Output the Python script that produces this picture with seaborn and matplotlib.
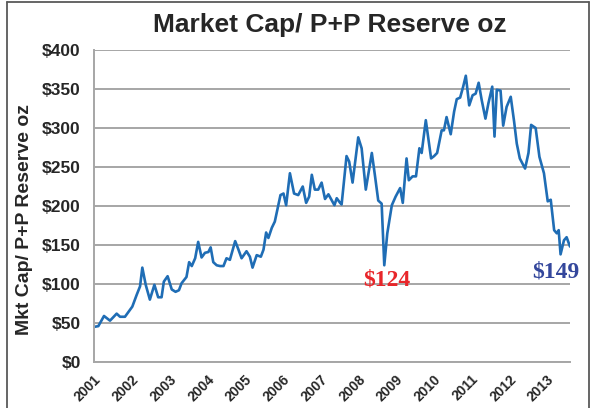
import matplotlib
matplotlib.use('Agg')
import matplotlib.pyplot as plt
import seaborn as sns
import pandas as pd
from matplotlib.lines import Line2D

# valores (ano decimal, US$ por oz de reserva P+P)
anos = [2001.00, 2001.115, 2001.265, 2001.424, 2001.60, 2001.69, 2001.82,
        2002.015, 2002.13, 2002.22, 2002.28, 2002.37, 2002.48, 2002.60, 2002.70,
        2002.79, 2002.85, 2002.95, 2003.06, 2003.16, 2003.25, 2003.32, 2003.45,
        2003.52, 2003.59, 2003.68, 2003.76, 2003.85, 2003.94, 2004.03, 2004.09,
        2004.16, 2004.25, 2004.34, 2004.43, 2004.51, 2004.60, 2004.74, 2004.82,
        2004.91, 2005.04, 2005.13, 2005.20, 2005.31, 2005.42, 2005.49, 2005.56,
        2005.62, 2005.71, 2005.79, 2005.86, 2005.94, 2006.02, 2006.09, 2006.19,
        2006.30, 2006.41, 2006.53, 2006.62, 2006.70, 2006.77, 2006.85, 2006.94,
        2007.03, 2007.12, 2007.21, 2007.37, 2007.43, 2007.52, 2007.56, 2007.69,
        2007.76, 2007.85, 2008.00, 2008.09, 2008.20, 2008.36, 2008.44, 2008.53,
        2008.62, 2008.69, 2008.77, 2008.89, 2008.99, 2009.11, 2009.18, 2009.28,
        2009.34, 2009.44, 2009.53, 2009.62, 2009.68, 2009.79, 2009.93, 2010.01,
        2010.09, 2010.21, 2010.27, 2010.34, 2010.45, 2010.54, 2010.61, 2010.70,
        2010.78, 2010.85, 2010.94, 2011.03, 2011.11, 2011.19, 2011.27, 2011.37,
        2011.45, 2011.55, 2011.61, 2011.67, 2011.77, 2011.84, 2011.93, 2012.04,
        2012.13, 2012.20, 2012.28, 2012.42, 2012.51, 2012.58, 2012.70, 2012.80,
        2012.92, 2013.02, 2013.10, 2013.19, 2013.26, 2013.31, 2013.36, 2013.45,
        2013.52, 2013.61]
valores = [45, 46, 59, 53, 62, 58, 58,
           71, 86, 97, 121, 99, 80, 99, 83,
           83, 103, 110, 93, 90, 92, 101, 109,
           128, 123, 133, 154, 134, 140, 141, 147,
           128, 124, 123, 123, 133, 131, 155, 145,
           133, 142, 135, 121, 137, 135, 144, 166,
           159, 172, 180, 196, 214, 216, 201, 242,
           216, 214, 225, 204, 212, 240, 221, 221,
           230, 209, 215, 201, 210, 204, 202, 264,
           257, 230, 288, 274, 221, 268, 240, 207,
           203, 124, 165, 201, 212, 223, 204, 261,
           233, 238, 238, 274, 268, 310, 261, 264,
           268, 297, 297, 314, 292, 321, 337, 339,
           353, 367, 329, 342, 344, 358, 336, 312,
           332, 353, 289, 349, 348, 303, 327, 340,
           308, 280, 261, 248, 268, 304, 300, 263,
           242, 206, 208, 169, 165, 169, 138, 156,
           160, 148]

rotulos_anos = list(range(2001, 2014))
rotulos_y = [0, 50, 100, 150, 200, 250, 300, 350, 400]

df = pd.DataFrame({'ano': anos, 'valor': valores})

sns.set_style('white')
plt.rcParams['font.family'] = ['Liberation Sans', 'DejaVu Sans']

fig = plt.figure(figsize=(5.92, 4.08), dpi=100)
ax = fig.add_axes([94 / 592, 1 - 362 / 408, (570 - 94) / 592, (362 - 50) / 408])

sns.lineplot(data=df, x='ano', y='valor', ax=ax, color='#1f6db5', linewidth=1.9,
             sort=False, estimator=None)

ax.set_xlim(2001, 2013.61)
ax.set_ylim(0, 400)
ax.set_yticks(rotulos_y)
ax.set_yticklabels([f'${v}' for v in rotulos_y], fontweight='bold', fontsize=12.5)
ax.set_xticks(rotulos_anos)
ax.set_xticklabels([str(a) for a in rotulos_anos], rotation=45, ha='right',
                   rotation_mode='anchor', fontweight='bold', fontsize=10)

ax.grid(axis='y', color='#a6a6a6', linewidth=1.4)
ax.grid(axis='x', visible=False)
for lado in ['top', 'right']:
    ax.spines[lado].set_visible(False)
for lado in ['left', 'bottom']:
    ax.spines[lado].set_color('#a6a6a6')
    ax.spines[lado].set_linewidth(1.4)
ax.tick_params(axis='y', length=7, width=1.2, color='#a6a6a6', direction='inout', pad=6)
ax.tick_params(axis='x', length=7, width=1.2, color='#a6a6a6', direction='inout', pad=4)

ax.set_xlabel('')
ax.set_ylabel('Mkt Cap/ P+P Reserve oz', fontweight='bold', fontsize=14)
ax.yaxis.set_label_coords(-0.128, 0.458)

fig.text(330 / 592, 1 - 25 / 408, 'Market Cap/ P+P Reserve oz', ha='center',
         va='center', fontsize=19, fontweight='bold')

ax.text(2008.75, 105, '$124', color='#e8262a', fontsize=17, fontweight='bold',
        family='Liberation Serif', ha='center', va='center')
ax.text(2013.24, 115, '$149', color='#34479c', fontsize=17, fontweight='bold',
        family='Liberation Serif', ha='center', va='center')

# moldura em volta do gráfico
cor_moldura = '#595959'
fig.add_artist(Line2D([7 / 592, 589 / 592], [1 - 2 / 408, 1 - 2 / 408],
                      color=cor_moldura, linewidth=1.3))
fig.add_artist(Line2D([7 / 592, 7 / 592], [0, 1 - 2 / 408],
                      color=cor_moldura, linewidth=1.3))
fig.add_artist(Line2D([589 / 592, 589 / 592], [0, 1 - 2 / 408],
                      color=cor_moldura, linewidth=1.3))

fig.savefig('out.png', dpi=100)
